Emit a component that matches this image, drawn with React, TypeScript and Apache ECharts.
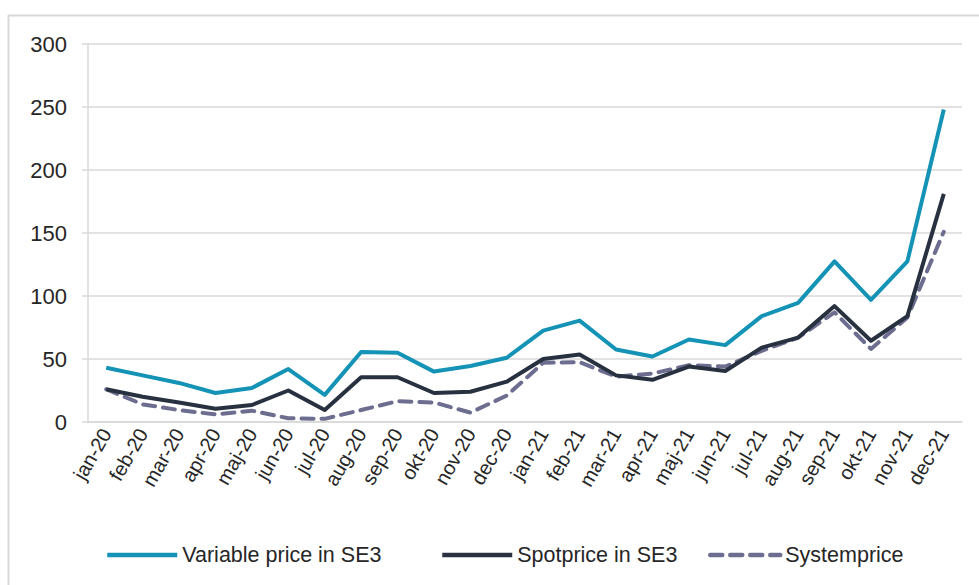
import React, { useEffect, useRef } from "react";
import * as echarts from "echarts";

const categories = [
  "jan-20", "feb-20", "mar-20", "apr-20", "maj-20", "jun-20", "jul-20", "aug-20",
  "sep-20", "okt-20", "nov-20", "dec-20", "jan-21", "feb-21", "mar-21", "apr-21",
  "maj-21", "jun-21", "jul-21", "aug-21", "sep-21", "okt-21", "nov-21", "dec-21",
];
const variablePrice = [43, 37, 31, 23, 27, 42, 21.5, 55.5, 55, 40, 44.5, 51, 72.5, 80.5, 57.5, 52, 65.5, 61, 84, 94.5, 127.5, 97, 127.5, 248];
const spotPrice = [26, 20, 15.5, 10.5, 13.5, 25, 9.5, 35.5, 35.5, 23, 24, 32, 50, 53.5, 37, 33.5, 44, 40.5, 59, 67, 92, 64.5, 84, 181];
const systemPrice = [26, 14, 9.5, 6, 9, 3, 2.5, 9.5, 16.5, 15.5, 7.5, 21, 47, 47.5, 36, 38.5, 45, 44, 56.5, 67, 87, 58, 83, 151];
const seriesNames = ["Variable price in SE3", "Spotprice in SE3", "Systemprice"];

const FONT = "'Liberation Sans', Arial, sans-serif";
const TEXT = "#262626";
const GRID = "#d9d9d9";
const legendLefts = [100, 435, 703];

export default function App() {
  const ref = useRef<HTMLDivElement>(null);
  useEffect(() => {
    if (!ref.current) return;
    const chart = echarts.init(ref.current, undefined, { renderer: "svg" });
    chart.setOption({
      animation: false,
      backgroundColor: "#ffffff",
      textStyle: { fontFamily: FONT },
      graphic: [
        { type: "line", shape: { x1: 8, y1: 15.5, x2: 979, y2: 15.5 }, style: { stroke: GRID, lineWidth: 2 } },
        { type: "line", shape: { x1: 8.5, y1: 15, x2: 8.5, y2: 585 }, style: { stroke: GRID, lineWidth: 2 } },
      ],
      grid: { left: 88, right: 17, top: 44, bottom: 163 },
      xAxis: {
        type: "category",
        data: categories,
        boundaryGap: true,
        axisLine: { show: true, lineStyle: { color: GRID, width: 1.5 } },
        axisTick: { show: false },
        axisLabel: { rotate: 60, fontSize: 20, color: TEXT, margin: 8, fontFamily: FONT, interval: 0 },
      },
      yAxis: {
        type: "value",
        min: 0,
        max: 300,
        interval: 50,
        axisLine: { show: true, lineStyle: { color: GRID, width: 1.5 } },
        axisTick: { show: true, length: 6, lineStyle: { color: GRID, width: 1.5 } },
        axisLabel: { fontSize: 22, color: TEXT, margin: 21, fontFamily: FONT },
        splitLine: { show: true, lineStyle: { color: GRID, width: 1.5 } },
      },
      legend: seriesNames.map((name, i) => ({
        left: legendLefts[i],
        top: 539,
        itemWidth: 70,
        itemHeight: 22,
        textStyle: { fontSize: 21.5, color: TEXT, fontFamily: FONT },
        lineStyle: { width: 4.5 },
        itemStyle: { opacity: 0 },
        data: [name],
      })),
      series: [
        {
          name: seriesNames[0],
          type: "line",
          data: variablePrice,
          symbol: "none",
          color: "#1493b6",
          lineStyle: { width: 4, color: "#1493b6", join: "round" },
          z: 3,
        },
        {
          name: seriesNames[1],
          type: "line",
          data: spotPrice,
          symbol: "none",
          color: "#28313f",
          lineStyle: { width: 4, color: "#28313f", join: "round" },
          z: 2,
        },
        {
          name: seriesNames[2],
          type: "line",
          data: systemPrice,
          symbol: "none",
          color: "#6c6d8f",
          lineStyle: { width: 4, color: "#6c6d8f", type: [12, 8], cap: "round", join: "round" },
          z: 1,
        },
      ],
    });
    return () => chart.dispose();
  }, []);
  return (
    <div
      ref={ref}
      style={{ position: "fixed", left: 0, top: 0, width: 979, height: 585, background: "#fff" }}
    />
  );
}
